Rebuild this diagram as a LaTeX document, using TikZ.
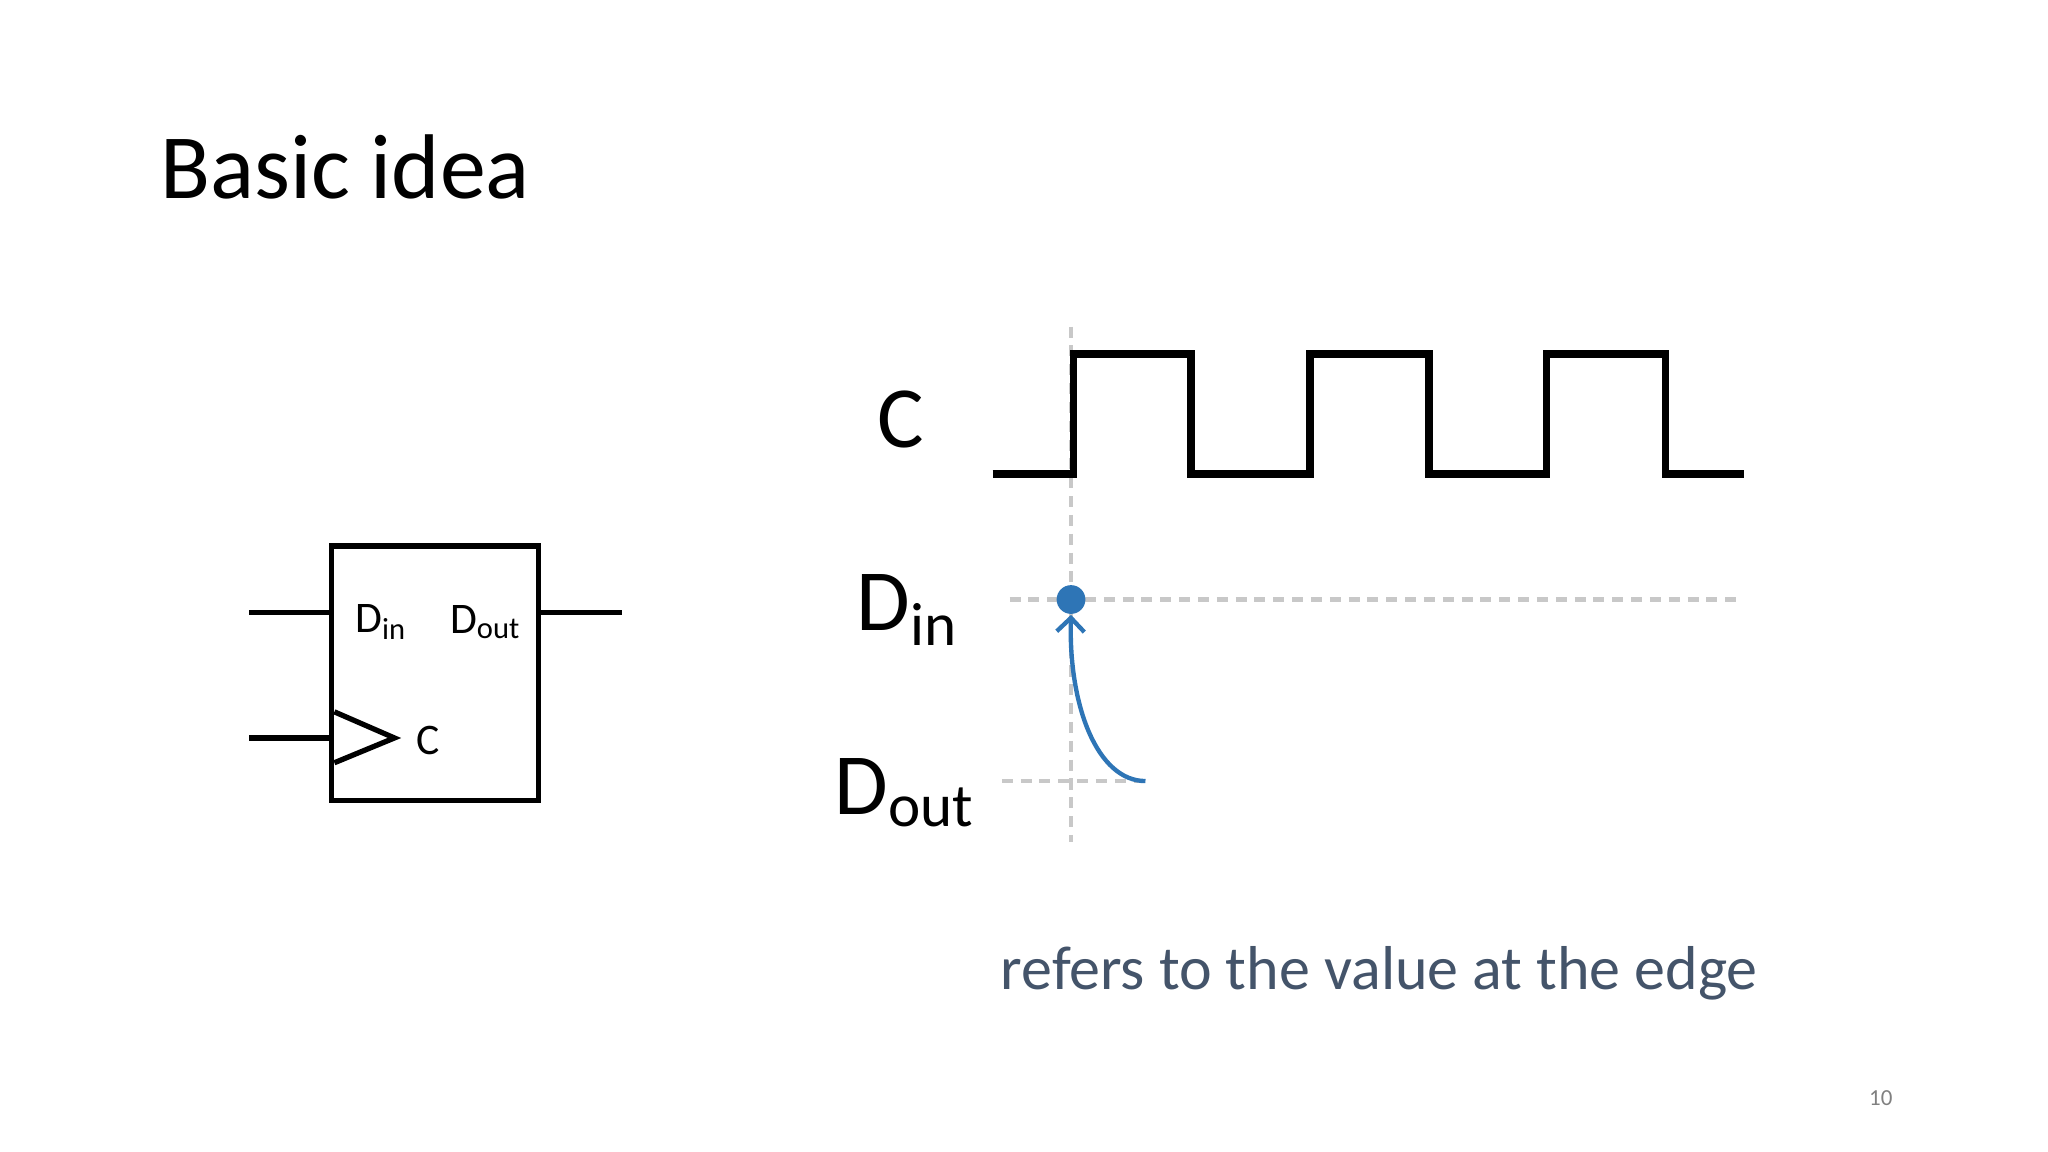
\documentclass[tikz,border=0pt]{standalone}
\usepackage{fontspec}
\setmainfont{Carlito}
\usetikzlibrary{arrows.meta,positioning,calc}
\definecolor{gridgray}{RGB}{200,200,200}
\definecolor{dotblue}{RGB}{46,117,182}
\definecolor{notegray}{RGB}{68,84,106}
\tikzset{
  wire/.style={line width=1.15pt},
  clk/.style={line width=1.65pt,line join=miter},
  guide/.style={gridgray,line width=0.9pt,dash pattern=on 2.4pt off 1.7pt},
}
\begin{document}
\begin{tikzpicture}[x=0.01cm,y=-0.01cm]
  % page frame
  \useasboundingbox (0,0) rectangle (1568,882);

  % title
  \node[anchor=base west,inner sep=0,font=\fontsize{20}{24}\selectfont] (title) at (122,152) {Basic idea};

  % flip-flop block
  \node[draw,wire,minimum width=1.58cm,minimum height=1.95cm,inner sep=0] (ff) at (333,515.5) {};
  \coordinate (inD) at (191,469);
  \coordinate (inC) at (191,565);
  \coordinate (outD) at (476,469);
  \draw[wire] (inD) -- (inD -| ff.west);
  \draw[wire] (inC) -- (inC -| ff.west);
  \draw[wire] (outD -| ff.east) -- (outD);
  \draw[wire,line join=miter] (256,545) -- (302,565) -- (256,584);
  \node[font=\fontsize{9.5}{11}\selectfont] (ffdin) at (292,476) {D\textsubscript{in}};
  \node[font=\fontsize{9.5}{11}\selectfont] (ffdout) at (372,476) {D\textsubscript{out}};
  \node[font=\fontsize{9.5}{11}\selectfont] (ffc) at (328,567) {C};

  % signal labels
  \node[font=\fontsize{19}{22}\selectfont] (lc) at (690,321) {C};
  \node[font=\fontsize{19}{22}\selectfont] (ldin) at (695,467) {D\textsubscript{in}};
  \node[font=\fontsize{19}{22}\selectfont] (ldout) at (693,607) {D\textsubscript{out}};

  % guides
  \coordinate (edgetop) at (820,250);
  \coordinate (edgebot) at (820,645);
  \coordinate (dinL) at (773,459);
  \coordinate (dinR) at (1335,459);
  \coordinate (doutL) at (767,598);
  \coordinate (doutR) at (877,598);
  \draw[guide] (edgetop) -- (edgebot);
  \draw[guide] (dinL) -- (dinR);
  \draw[guide] (doutL) -- (doutR);

  % clock
  \draw[clk] (760,363) -- (822,363) -- (822,271) -- (912,271) -- (912,363)
    -- (1003,363) -- (1003,271) -- (1094,271) -- (1094,363) -- (1184,363)
    -- (1184,271) -- (1275,271) -- (1275,363) -- (1335,363);

  % sample point
  \node[circle,fill=dotblue,inner sep=0,minimum size=0.22cm] (dot) at (820,459) {};
  \draw[dotblue,line width=0.95pt,-{Straight Barb[length=3pt,width=6pt]}]
    (doutR) .. controls (840,598) and (818,540) .. (dot.south);

  % note
  \node[notegray,font=\fontsize{13.5}{16}\selectfont] (note) at (1056,745) {refers to the value at the edge};
  \node[gray,font=\fontsize{5}{6}\selectfont] (pg) at (1440,841) {10};
\end{tikzpicture}
\end{document}
